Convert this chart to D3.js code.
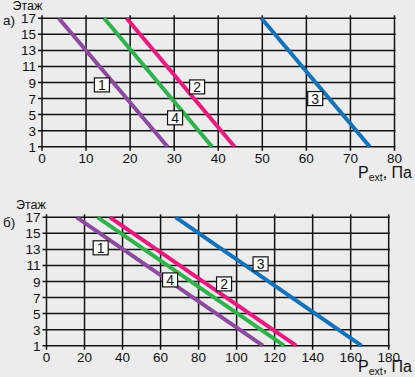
<!DOCTYPE html>
<html><head><meta charset="utf-8">
<script src="https://cdn.jsdelivr.net/npm/d3@7"></script>
<style>
html,body{margin:0;padding:0;background:#ececec;}
svg{display:block;}
text{font-family:"Liberation Sans Narrow","Liberation Sans",sans-serif;fill:#111;}
</style></head>
<body>
<svg id="c" width="415" height="377"></svg>
<script>
// ---- data ----
const floorTicks = [1,3,5,7,9,11,13,15,17];
const floorEnds = [1, 17];
const seriesNames = ["1","2","3","4"];
const seriesColors = ["#8c4a9e","#e8197f","#1372b9","#2fb24c"];
// chart a) pressure at floor 1 and floor 17
const a_xTicks = [0,10,20,30,40,50,60,70,80];
const a_p1  = [28.5, 3.8];
const a_p2  = [43.7, 19.2];
const a_p3  = [74.4, 49.8];
const a_p4  = [38.6, 14.1];
const a_labelX = [13.6, 35.2, 62.0, 30.2];
const a_labelY = [8.7, 8.45, 7.0, 4.6];
// chart б)
const b_xTicks = [0,20,40,60,80,100,120,140,160,180];
const b_p1  = [113.8, 15.9];
const b_p2  = [131.3, 33.4];
const b_p3  = [165.7, 68.0];
const b_p4  = [125.0, 26.9];
const b_labelX = [28.5, 93.4, 112.6, 65.0];
const b_labelY = [13.2, 8.7, 11.2, 9.2];

const svg = d3.select("#c");

function drawChart(cfg){
  const g = svg.append("g");
  const x = d3.scaleLinear().domain([0, cfg.xTicks[cfg.xTicks.length-1]]).range([cfg.x0, cfg.x1]);
  const y = d3.scaleLinear().domain([1,17]).range([cfg.y0, cfg.y1]);
  // grid
  g.selectAll(".vg").data(cfg.xTicks).join("line")
    .attr("x1", d=>x(d)).attr("x2", d=>x(d))
    .attr("y1", y(1)+4).attr("y2", y(17)-3)
    .attr("stroke","#111").attr("stroke-width",1.5);
  g.selectAll(".hg").data(floorTicks).join("line")
    .attr("x1", x(0)-4).attr("x2", x.range()[1]+1)
    .attr("y1", d=>y(d)).attr("y2", d=>y(d))
    .attr("stroke","#111").attr("stroke-width",1.5);
  // tick labels
  g.selectAll(".yl").data(floorTicks).join("text")
    .attr("x", x(0)-6).attr("y", d=>y(d)+5)
    .attr("text-anchor","end").attr("font-size",13.5).text(d=>d);
  g.selectAll(".xl").data(cfg.xTicks).join("text")
    .attr("x", d=>x(d)).attr("y", y(1)+16.5)
    .attr("text-anchor","middle").attr("font-size",13.5).text(d=>d);
  // series lines
  const line = d3.line().x(d=>x(d[0])).y(d=>y(d[1]));
  cfg.series.forEach((s,i)=>{
    g.append("path").datum(s.map((v,j)=>[v, floorEnds[j]]))
      .attr("d", line).attr("fill","none")
      .attr("stroke", seriesColors[i]).attr("stroke-width",4);
  });
  // labels
  seriesNames.forEach((n,i)=>{
    const cx = x(cfg.labelX[i]), cy = y(cfg.labelY[i]);
    g.append("rect").attr("x",cx-7.5).attr("y",cy-7).attr("width",15).attr("height",14)
      .attr("fill","#fff").attr("stroke","#111").attr("stroke-width",1.2);
    g.append("text").attr("x",cx).attr("y",cy+5).attr("text-anchor","middle")
      .attr("font-size",14).text(n);
  });
  // titles
  g.append("text").attr("x",cfg.etX).attr("y",cfg.etY).attr("font-size",12.5).text("Этаж");
  g.append("text").attr("x",3).attr("y",cfg.letY).attr("font-size",13.5).text(cfg.letter);
  const t = g.append("text").attr("x",412).attr("y",cfg.labY).attr("text-anchor","end").attr("font-size",16);
  t.append("tspan").text("P");
  t.append("tspan").attr("font-size",10.5).attr("dy",3).text("ext");
  t.append("tspan").attr("font-size",16).attr("dy",-3).text(", Па");
}

drawChart({xTicks:a_xTicks, x0:42, x1:394.5, y0:146.7, y1:18.3,
  series:[a_p1,a_p2,a_p3,a_p4], labelX:a_labelX, labelY:a_labelY,
  etX:12.5, etY:9.5, letY:25, letter:"а)", labY:178});
drawChart({xTicks:b_xTicks, x0:46.5, x1:388.7, y0:345.7, y1:217.3,
  series:[b_p1,b_p2,b_p3,b_p4], labelX:b_labelX, labelY:b_labelY,
  etX:16, etY:208.5, letY:227, letter:"б)", labY:372});
</script>
</body></html>
